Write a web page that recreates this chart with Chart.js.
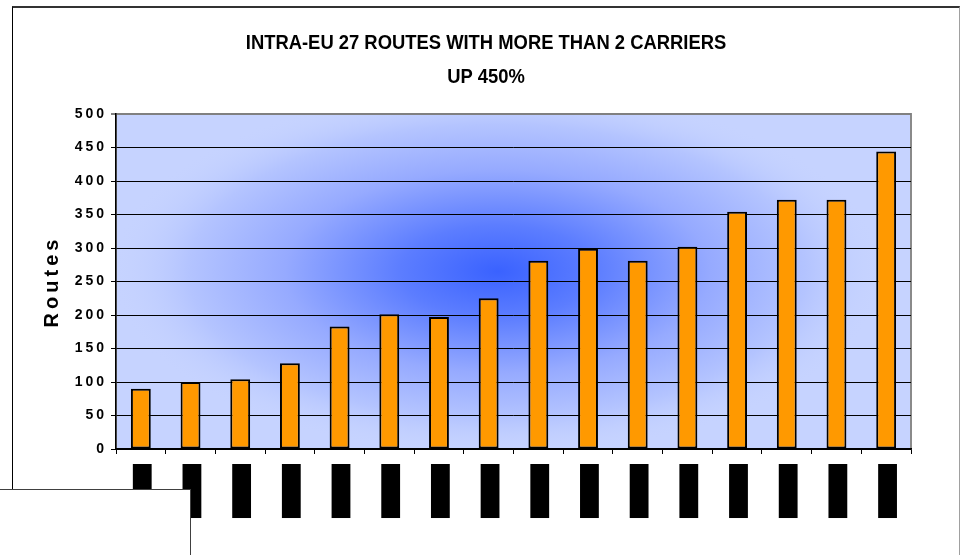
<!DOCTYPE html>
<html>
<head>
<meta charset="utf-8">
<script src="https://cdn.jsdelivr.net/npm/chart.js@4/dist/chart.umd.min.js"></script>
<style>
  html, body { margin: 0; padding: 0; background: #fff; }
  #wrap { position: relative; width: 960px; height: 555px; overflow: hidden; }
  #c { position: absolute; left: 0; top: 0; }
  #frame { position: absolute; left: 12px; top: 6px; width: 946px; height: 560px;
           border-top: 2px solid #333; border-left: 1px solid #000; border-right: 1px solid #a0a0a0;
           pointer-events: none; }
  #box { position: absolute; left: 0; top: 489px; width: 190px; height: 80px; background: #fff;
         border-top: 1px solid #404040; border-right: 1px solid #404040; }
</style>
</head>
<body>
<div id="wrap">
  <canvas id="c" width="960" height="555"></canvas>
  <div id="frame"></div>
  <div id="box"></div>
</div>
<script>
// ---- data ----
const categories = ['1992','1993','1994','1995','1996','1997','1998','1999',
                    '2000','2001','2002','2003','2004','2005','2006','2007'];
const routes = [90, 100, 104, 128, 183, 201, 197, 225, 281, 299, 281, 302, 354, 372, 372, 444];
const titleLines = ['INTRA-EU 27 ROUTES WITH MORE THAN 2 CARRIERS', 'UP 450%'];
const yAxisTitle = 'Routes';
const yMin = 0, yMax = 500, yStep = 50;

// ---- plugins ----
const plotBg = {
  id: 'plotBg',
  beforeDraw(chart) {
    const { ctx, chartArea: a } = chart;
    ctx.save();
    ctx.fillStyle = '#c6d3ff';
    ctx.fillRect(a.left, a.top, a.width, a.height);
    ctx.beginPath();
    ctx.rect(a.left, a.top, a.width, a.height);
    ctx.clip();
    const cx = a.left + a.width * 0.48, cy = a.top + a.height * 0.47;
    ctx.translate(cx, cy);
    ctx.scale(2.1, 1);
    const r = a.height * 0.55;
    const g = ctx.createRadialGradient(0, 0, 0, 0, 0, r);
    g.addColorStop(0, 'rgba(58,98,255,1)');
    g.addColorStop(0.25, 'rgba(92,125,255,1)');
    g.addColorStop(0.55, 'rgba(150,170,255,1)');
    g.addColorStop(0.8, 'rgba(180,196,255,1)');
    g.addColorStop(1, 'rgba(198,211,255,0)');
    ctx.fillStyle = g;
    ctx.fillRect(-r * 2, -r * 2, r * 4, r * 4);
    ctx.restore();
    ctx.save();
    ctx.strokeStyle = '#8a8a8a';
    ctx.lineWidth = 2;
    ctx.strokeRect(a.left, a.top, a.width, a.height);
    ctx.restore();
  }
};

const textStyle = {
  id: 'textStyle',
  beforeLayout(chart) {
    const s = chart.scales.y;
    if (s && !s._spaced) {
      s._spaced = true;
      const dl = s.drawLabels.bind(s);
      s.drawLabels = function (area) {
        const c = this.ctx; c.save(); c.letterSpacing = '3px'; dl(area); c.restore();
      };
      const dt = s.drawTitle.bind(s);
      s.drawTitle = function () {
        const c = this.ctx; c.save(); c.letterSpacing = '4px'; dt(); c.restore();
      };
    }
    const tb = chart.titleBlock;
    if (tb && !tb._narrow) {
      tb._narrow = true;
      const d = tb.draw.bind(tb);
      tb.draw = function () {
        const c = this.ctx;
        const cx = (this.left + this.right) / 2;
        c.save(); c.translate(cx, 0); c.scale(0.92, 1); c.translate(-cx, 0);
        d();
        c.restore();
      };
    }
  }
};

Chart.defaults.font.family = "'Liberation Sans', Arial, sans-serif";
Chart.defaults.color = '#000';

new Chart(document.getElementById('c'), {
  type: 'bar',
  data: {
    labels: categories,
    datasets: [{
      data: routes,
      backgroundColor: '#ff9900',
      borderColor: '#000',
      borderWidth: 2,
      borderSkipped: false,
      barPercentage: 0.4,
      categoryPercentage: 1.0
    }]
  },
  options: {
    responsive: false,
    animation: false,
    devicePixelRatio: 1,
    layout: { padding: { left: 12, right: 0, top: 0, bottom: 26 } },
    plugins: {
      legend: { display: false },
      tooltip: { enabled: false },
      title: {
        display: true,
        text: titleLines,
        color: '#000',
        font: { family: "'Liberation Sans', Arial, sans-serif", size: 20, weight: 'bold', lineHeight: 1.7 },
        padding: { top: 26, bottom: 20 }
      }
    },
    scales: {
      x: {
        grid: { display: true, drawOnChartArea: false, drawTicks: true, tickLength: 5,
                color: '#000', offset: true },
        border: { display: true, color: '#000', width: 1.5 },
        ticks: {
          minRotation: 90, maxRotation: 90, autoSkip: false,
          color: '#000', font: { size: 9, weight: 'bold' }, padding: 10,
          showLabelBackdrop: true, backdropColor: '#000',
          backdropPadding: { top: 8, bottom: 0, left: 34, right: 0 }
        },
        afterFit(s) { s.height = 80; }
      },
      y: {
        min: yMin, max: yMax,
        grid: {
          color: (c) => (c.tick && c.tick.value === yMax) ? '#808080' : '#000',
          lineWidth: (c) => (c.tick && c.tick.value === yMax) ? 2 : 1,
          tickLength: 5, drawTicks: true
        },
        border: { display: true, color: '#000', width: 1.5 },
        ticks: { stepSize: yStep, color: '#000', font: { size: 14, weight: 'bold' }, padding: 4 },
        title: { display: true, text: yAxisTitle, color: '#000',
                 font: { size: 20, weight: 'bold' }, padding: { top: 28, bottom: 0 } },
        afterFit(s) { s.width = 104; }
      },
      yR: {
        position: 'right', display: true,
        grid: { display: false }, border: { display: false },
        ticks: { display: false },
        afterFit(s) { s.width = 49; }
      }
    }
  },
  plugins: [plotBg, textStyle]
});
</script>
</body>
</html>
